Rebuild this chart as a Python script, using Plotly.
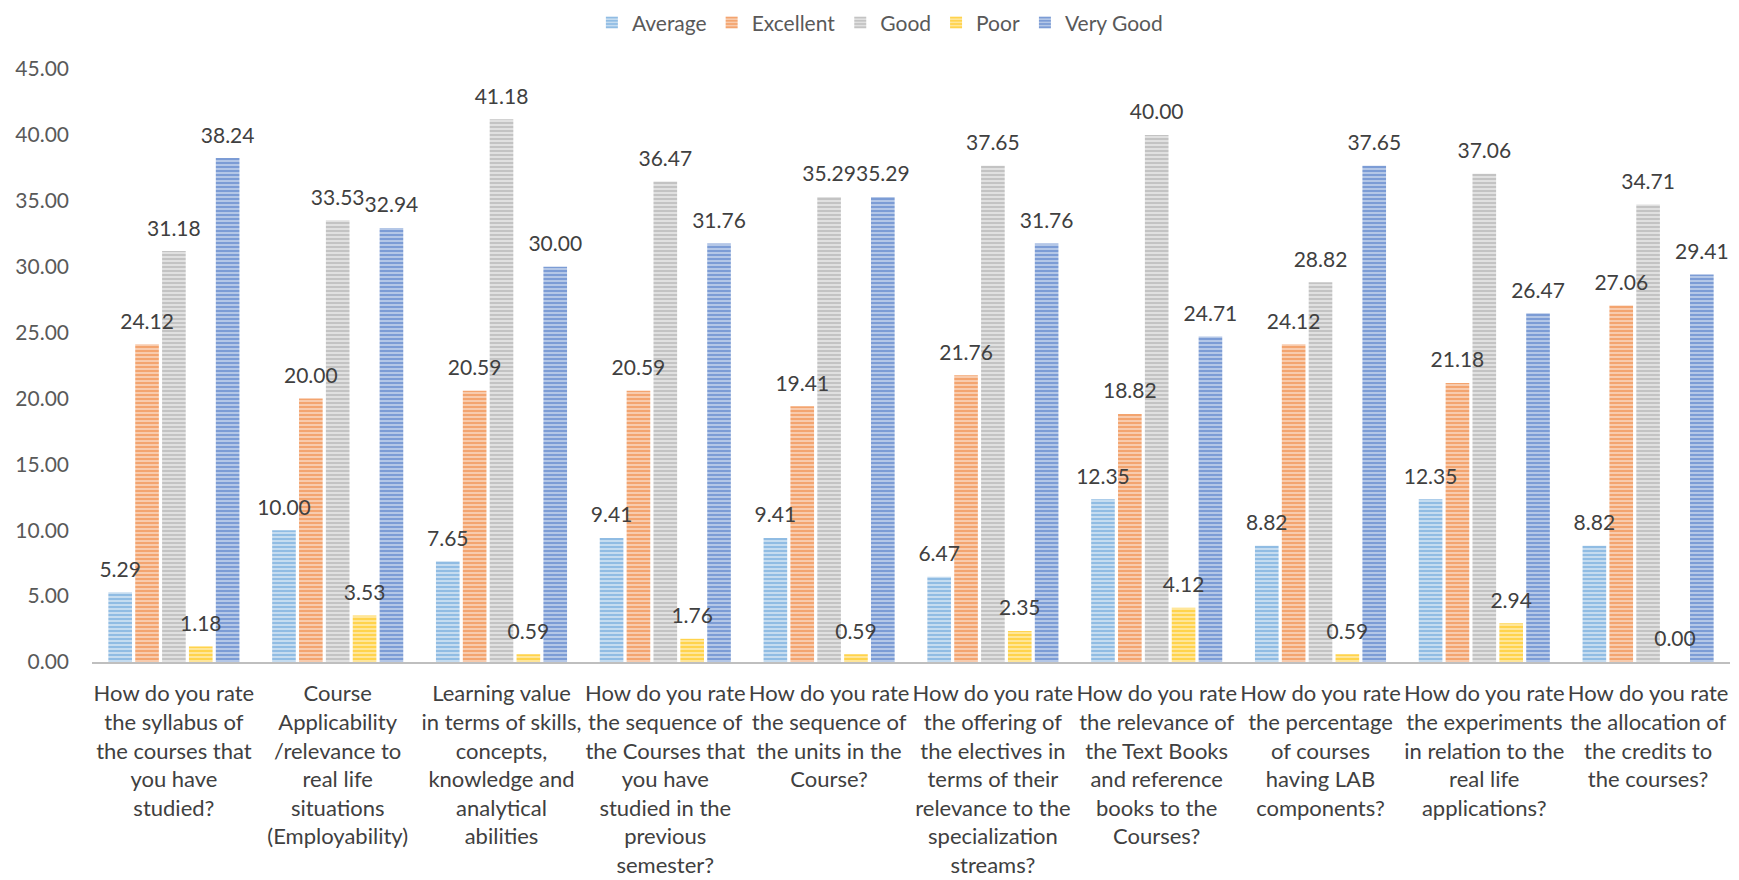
import plotly.graph_objects as go

categories = [
    "How do you rate<br>the syllabus of<br>the courses that<br>you have<br>studied?",
    "Course<br>Applicability<br>/relevance to<br>real life<br>situations<br>(Employability)",
    "Learning value<br>in terms of skills,<br>concepts,<br>knowledge and<br>analytical<br>abilities",
    "How do you rate<br>the sequence of<br>the Courses that<br>you have<br>studied in the<br>previous<br>semester?",
    "How do you rate<br>the sequence of<br>the units in the<br>Course?",
    "How do you rate<br>the offering of<br>the electives in<br>terms of their<br>relevance to the<br>specialization<br>streams?",
    "How do you rate<br>the relevance of<br>the Text Books<br>and reference<br>books to the<br>Courses?",
    "How do you rate<br>the percentage<br>of courses<br>having LAB<br>components?",
    "How do you rate<br>the experiments<br>in relation to the<br>real life<br>applications?",
    "How do you rate<br>the allocation of<br>the credits to<br>the courses?",
]

average = [5.29, 10.00, 7.65, 9.41, 9.41, 6.47, 12.35, 8.82, 12.35, 8.82]
excellent = [24.12, 20.00, 20.59, 20.59, 19.41, 21.76, 18.82, 24.12, 21.18, 27.06]
good = [31.18, 33.53, 41.18, 36.47, 35.29, 37.65, 40.00, 28.82, 37.06, 34.71]
poor = [1.18, 3.53, 0.59, 1.76, 0.59, 2.35, 4.12, 0.59, 2.94, 0.00]
very_good = [38.24, 32.94, 30.00, 31.76, 35.29, 31.76, 24.71, 37.65, 26.47, 29.41]

series = [
    ("Average", average, "#5B9BD5", "#C5DCF0"),
    ("Excellent", excellent, "#ED7D31", "#F8CBAD"),
    ("Good", good, "#A5A5A5", "#E0E0E0"),
    ("Poor", poor, "#FFC000", "#FFE699"),
    ("Very Good", very_good, "#4472C4", "#B4C7E7"),
]

FONT = "Lato, 'Open Sans', sans-serif"
xs = list(range(len(categories)))
Y_MAX = 45
LABEL_LIFT = 0.65  # axis units, raises data labels above the bar tops

fig = go.Figure()
for name, vals, base, light in series:
    fig.add_trace(go.Bar(
        name=name, x=xs, y=vals,
        marker=dict(
            color=base, line=dict(width=0),
            pattern=dict(shape="-", bgcolor=light, fgcolor=base, size=4, solidity=0.5),
        ),
        xaxis="x", yaxis="y",
    ))
for name, vals, base, light in series:
    fig.add_trace(go.Bar(
        name=name, x=xs, y=vals, showlegend=False,
        marker=dict(color="rgba(0,0,0,0)", line=dict(width=0)),
        text=[f"{v:.2f}" for v in vals],
        textposition="outside", constraintext="none", cliponaxis=False,
        textfont=dict(family=FONT, size=21, color="#404040"),
        hoverinfo="skip",
        xaxis="x2", yaxis="y2",
    ))

fig.update_layout(
    width=1739, height=880,
    paper_bgcolor="white", plot_bgcolor="white",
    barmode="group", bargap=0.18, bargroupgap=0.12,
    margin=dict(l=84, r=17, t=61, b=226, autoexpand=False),
    font=dict(family=FONT, size=21, color="#404040"),
    legend=dict(orientation="h", x=0.481, xanchor="center", y=1.078, yref="paper",
                yanchor="middle", font=dict(size=21, color="#595959"),
                itemwidth=30, traceorder="normal"),
    showlegend=True,
    xaxis=dict(
        tickmode="array", tickvals=xs, ticktext=categories,
        range=[-0.5, len(categories) - 0.5],
        showline=True, linecolor="#BFBFBF", linewidth=2, ticks="",
        tickfont=dict(size=22, color="#404040"), tickangle=0,
        showgrid=False, automargin=False, ticklabelstandoff=11,
    ),
    yaxis=dict(
        range=[0, Y_MAX], tickmode="linear", tick0=0, dtick=5, tickformat=".2f",
        showgrid=False, zeroline=False, showline=False,
        tickfont=dict(size=21, color="#595959"), ticklabelstandoff=22, automargin=False,
    ),
    xaxis2=dict(overlaying="x", matches="x", visible=False,
                range=[-0.5, len(categories) - 0.5]),
    yaxis2=dict(overlaying="y", visible=False,
                range=[-LABEL_LIFT, Y_MAX - LABEL_LIFT]),
)

fig.write_html("out.html")
